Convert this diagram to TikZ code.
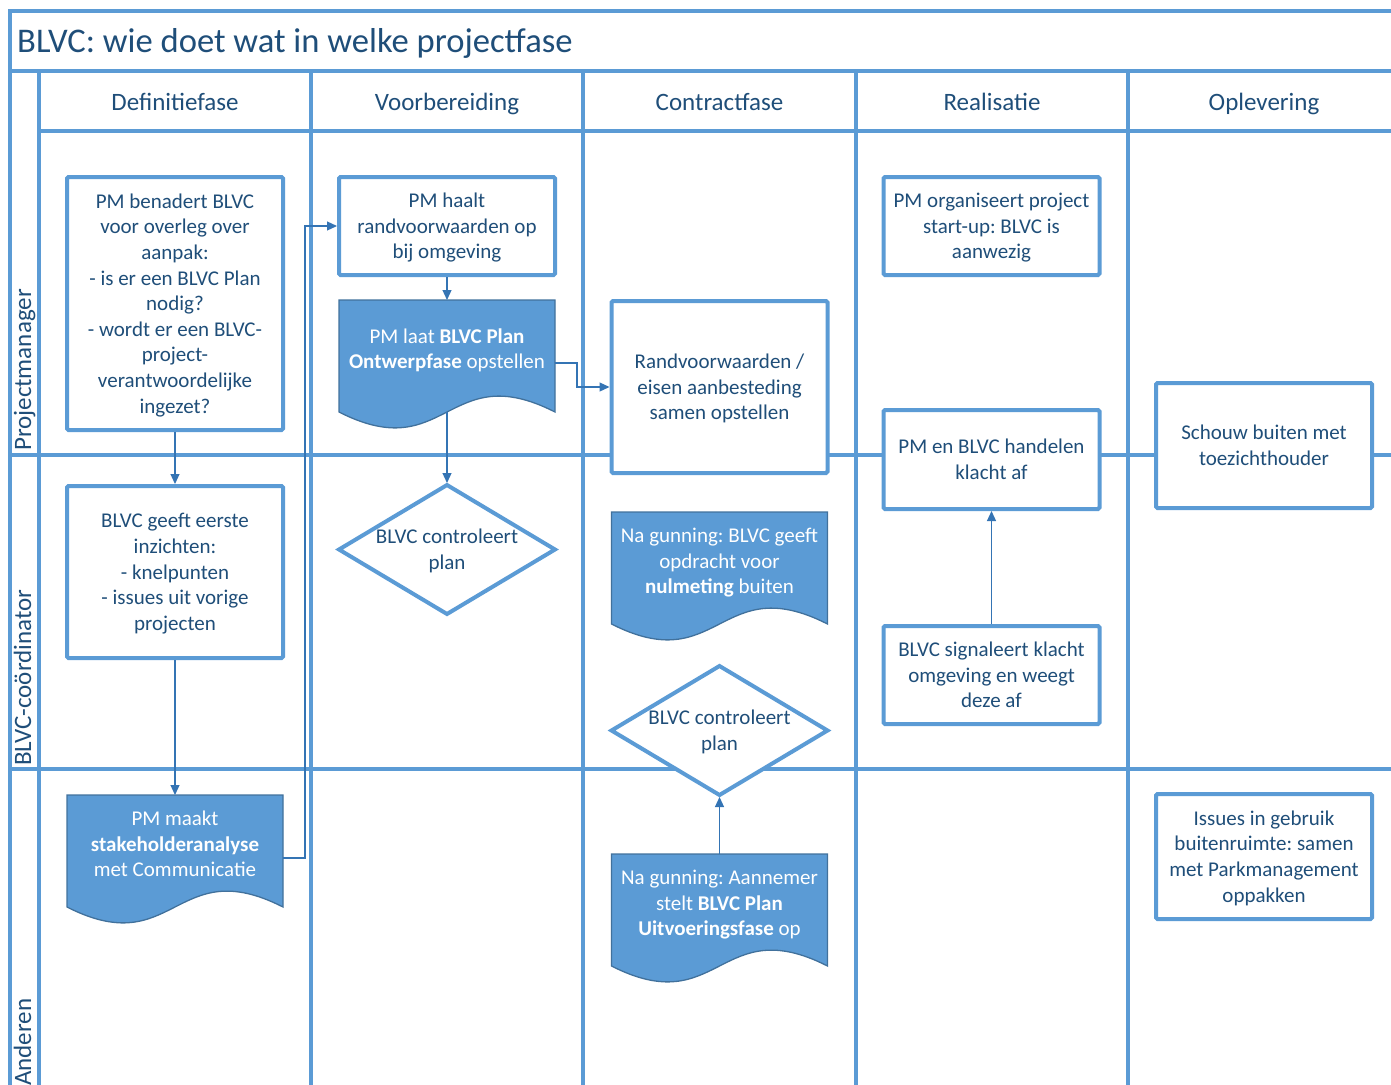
\documentclass[tikz,border=0pt]{standalone}
\usepackage{fontspec}
\setmainfont{Carlito}
\usetikzlibrary{arrows.meta}
\definecolor{lane}{HTML}{5B9BD5}
\definecolor{txt}{HTML}{1F4E79}
\definecolor{docfill}{HTML}{5B9BD5}
\definecolor{docborder}{HTML}{41719C}
\definecolor{arrowc}{HTML}{3474B4}
\newcommand\tstr{\rule{0pt}{21.9pt}}
\newcommand\bstr{\rule[-7.7pt]{0pt}{7.7pt}}
\pgfdeclarelayer{bg}
\pgfsetlayers{bg,main}
\begin{document}
\frenchspacing
\begin{tikzpicture}[x=1pt,y=-1pt,
  every node/.style={inner sep=0pt},
  frm/.style={draw=lane,line width=4pt},
  txtfont/.style={font=\fontsize{21}{25.6}\selectfont\frenchspacing},
  box/.style={draw=lane,line width=4pt,fill=white,rounded corners=1.5pt,minimum width=216pt,
    align=center,text=txt,txtfont},
  ghost/.style={draw=none,minimum width=216pt,outer sep=0pt},
  dtext/.style={align=center,text=white,txtfont},
  dshape/.style={fill=docfill,draw=docborder,line width=1.3pt},
  dianode/.style={ghost,minimum height=129pt,align=center,text=txt,txtfont},
  diashape/.style={draw=lane,line width=4pt,fill=white,line join=miter},
  conn/.style={draw=arrowc,line width=1.2pt,-{Triangle[length=10pt,width=9pt]}},
  hdr/.style={anchor=base,text=txt,font=\fontsize{25}{30}\selectfont},
  lanelbl/.style={anchor=base west,rotate=90,text=txt,font=\fontsize{25}{30}\selectfont},
]
\useasboundingbox (0,0) rectangle (1391,1084);

% title, headers, lane labels
\node[anchor=base west,text=txt,font=\fontsize{34.6}{41}\selectfont] (title) at (17,52) {BLVC: wie doet wat in welke projectfase};
\node[hdr] (h1) at (175,110) {Definitiefase};
\node[hdr] (h2) at (447,110) {Voorbereiding};
\node[hdr] (h3) at (719.5,110) {Contractfase};
\node[hdr] (h4) at (992,110) {Realisatie};
\node[hdr] (h5) at (1264,110) {Oplevering};
\node[lanelbl] (l1) at (31,451) {Projectmanager};
\node[lanelbl] (l2) at (31,766) {BLVC-coördinator};
\node[lanelbl] (l3) at (31,1086) {Anderen};

% boxes
\node[box,minimum height=253pt] (ben) at (175,303.5) {\tstr PM benadert BLVC\\voor overleg over\\aanpak:\\- is er een BLVC Plan\\nodig?\\- wordt er een BLVC-\\project-\\verantwoordelijke\\ingezet?\bstr};
\node[box,minimum height=172pt] (gee) at (175,572) {\tstr BLVC geeft eerste\\inzichten:\\- knelpunten\\- issues uit vorige\\projecten\bstr};
\node[box,minimum height=98pt] (haalt) at (447,226) {\tstr PM haalt\\randvoorwaarden op\\bij omgeving\bstr};
\node[box,minimum height=172pt] (rand) at (719.5,387) {\tstr Randvoorwaarden /\\eisen aanbesteding\\samen opstellen\bstr};
\node[box,minimum height=98pt] (org) at (991.5,226) {\tstr PM organiseert project\\start-up: BLVC is\\aanwezig\bstr};
\node[box,minimum height=99pt] (kla) at (991.5,459.5) {\tstr PM en BLVC handelen\\klacht af\bstr};
\node[box,minimum height=98pt] (sig) at (991.5,675) {\tstr BLVC signaleert klacht\\omgeving en weegt\\deze af\bstr};
\node[box,minimum height=125pt] (sch) at (1264,445.5) {\tstr Schouw buiten met\\toezichthouder\bstr};
\node[box,minimum height=125pt] (iss) at (1264,856.5) {\tstr Issues in gebruik\\buitenruimte: samen\\met Parkmanagement\\oppakken\bstr};

% documents (body anchors + text)
\node[ghost,minimum height=112pt] (stake) at (175,851) {};
\node[dtext] (stake-t) at (175,844) {\tstr PM maakt\\\textbf{stakeholderanalyse}\\met Communicatie\bstr};
\node[ghost,minimum height=112pt] (laat) at (447,356) {};
\node[dtext] (laat-t) at (447,349) {\tstr PM laat \textbf{BLVC Plan}\\\textbf{Ontwerpfase} opstellen\bstr};
\node[ghost,minimum height=112pt] (ngb) at (719.5,568) {};
\node[dtext] (ngb-t) at (719.5,561) {\tstr Na gunning: BLVC geeft\\opdracht voor\\\textbf{nulmeting} buiten\bstr};
\node[ghost,minimum height=112pt] (aan) at (719.5,910) {};
\node[dtext] (aan-t) at (719.5,903) {\tstr Na gunning: Aannemer\\stelt \textbf{BLVC Plan}\\\textbf{Uitvoeringsfase} op\bstr};

% decisions
\node[dianode] (dia1) at (447,549.5) {\tstr BLVC controleert\\plan\bstr};
\node[dianode] (dia2) at (719.5,730.5) {\tstr BLVC controleert\\plan\bstr};

\begin{pgfonlayer}{bg}
  % swimlane frame
  \draw[frm] (9.5,1100) -- (9.5,11) -- (1400,11);
  \draw[frm] (9.5,71) -- (1400,71);
  \draw[frm] (39,71) -- (39,1100);
  \draw[frm] (39,131) -- (1400,131);
  \foreach \x in {311,583,856,1128} \draw[frm] (\x,71) -- (\x,1100);
  \draw[frm] (9.5,455) -- (1400,455);
  \draw[frm] (9.5,769) -- (1400,769);
  % document shapes
  \foreach \d in {stake,laat,ngb,aan}
    \path[dshape] (\d.north west) -- (\d.north east) -- (\d.south east)
      .. controls ([yshift=55pt]\d.south) and ([yshift=-55pt]\d.south) .. (\d.south west) -- cycle;
  % diamonds
  \foreach \d in {dia1,dia2}
    \path[diashape] (\d.north) -- (\d.east) -- (\d.south) -- (\d.west) -- cycle;
\end{pgfonlayer}

% connectors
\draw[conn] (ben.south) -- (gee.north);
\draw[conn] (gee.south) -- (stake.north);
\draw[conn] ([yshift=-7pt]stake.east) -- ++(22,0) |- (haalt.west);
\draw[conn] (haalt.south) -- (laat.north);
\draw[conn,shorten >=2pt] (laat.south) -- (dia1.north);
\draw[conn] ([yshift=-7pt]laat.east) -- ++(22,0) |- (rand.west);
\draw[conn,shorten >=2pt] (aan.north) -- (dia2.south);
\draw[conn] (sig.north) -- (kla.south);
\end{tikzpicture}
\end{document}
